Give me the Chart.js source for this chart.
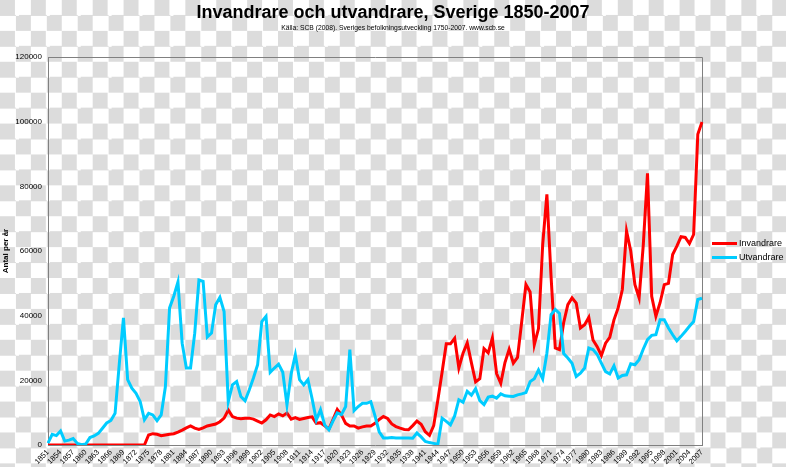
<!DOCTYPE html>
<html lang="sv">
<head>
<meta charset="UTF-8">
<title>Invandrare och utvandrare, Sverige 1850-2007</title>
<script src="https://cdn.jsdelivr.net/npm/chart.js"></script>
<style>
    html, body { margin: 0; padding: 0; }
    body {
        width: 786px; height: 467px; overflow: hidden; position: relative;
        /* transparent-look checkerboard, as in the source image */
        background: repeating-conic-gradient(#fff 0 25%, #dcdcdc 0 50%) 0 0 / 30.9px 30.9px;
        font-family: 'Liberation Sans', Arial, sans-serif;
        color: #000;
    }
    #chart { display: block; }
    #title { position: absolute; left: 0; top: 1px; width: 786px; text-align: center;
             font-size: 18px; font-weight: bold; line-height: 22px; }
    #subtitle { position: absolute; left: 0; top: 23.5px; width: 786px; text-align: center;
                font-size: 6.75px; line-height: 8px; }
    #legend { position: absolute; left: 712px; top: 236px; }
    #legend .item { display: flex; align-items: center; height: 14px; font-size: 9px; }
    #legend .swatch { display: inline-block; width: 25px; height: 3px; margin-right: 2px; }
</style>
</head>
<body>
<canvas id="chart" width="786" height="467"></canvas>
<div id="title">Invandrare och utvandrare, Sverige 1850-2007</div>
<div id="subtitle">Källa: SCB (2008). Sveriges befolkningsutveckling 1750-2007. www.scb.se</div>
<div id="legend"></div>

<script>
    // years on the x axis (every 3rd one gets a label)
    const years = [
        1851,1852,1853,1854,1855,1856,1857,1858,1859,1860,
        1861,1862,1863,1864,1865,1866,1867,1868,1869,1870,
        1871,1872,1873,1874,1875,1876,1877,1878,1879,1880,
        1881,1882,1883,1884,1885,1886,1887,1888,1889,1890,
        1891,1892,1893,1894,1895,1896,1897,1898,1899,1900,
        1901,1902,1903,1904,1905,1906,1907,1908,1909,1910,
        1911,1912,1913,1914,1915,1916,1917,1918,1919,1920,
        1921,1922,1923,1924,1925,1926,1927,1928,1929,1930,
        1931,1932,1933,1934,1935,1936,1937,1938,1939,1940,
        1941,1942,1943,1944,1945,1946,1947,1948,1949,1950,
        1951,1952,1953,1954,1955,1956,1957,1958,1959,1960,
        1961,1962,1963,1964,1965,1966,1967,1968,1969,1970,
        1971,1972,1973,1974,1975,1976,1977,1978,1979,1980,
        1981,1982,1983,1984,1985,1986,1987,1988,1989,1990,
        1991,1992,1993,1994,1995,1996,1997,1998,1999,2000,
        2001,2002,2003,2004,2005,2006,2007
    ];
    const labelStep = 3;

    // Invandrare (immigrants) per year
    const invandrare = [
        0,0,0,0,0,0,0,0,0,0,
        0,0,0,0,0,0,0,0,0,0,
        0,0,0,0,3100,3500,3300,2900,3100,3300,
        3500,4000,4600,5300,5900,5200,4800,5300,5900,6200,
        6500,7200,8300,10800,8800,8300,8100,8300,8300,8000,
        7400,6800,7800,9300,8800,9600,9000,9900,8000,8500,
        7900,8200,8500,8700,6700,6900,5900,4900,7900,11000,
        9300,6700,5900,5900,5200,5600,5900,5900,6700,7900,
        8800,8200,6500,5700,5200,4800,4700,6000,7400,6400,
        4100,3000,6000,14000,22500,31300,31300,33000,23800,28400,
        31600,25400,19500,20500,29800,28500,33100,22100,19100,25500,
        29600,25300,27100,38200,49600,47300,31000,36000,62000,77500,
        52000,30000,29500,37800,43400,45500,43900,36200,37200,39500,
        32500,30400,27700,31500,33300,38700,42400,48100,66200,60000,
        49600,45500,62000,84000,46000,39800,44000,49600,50000,58900,
        61500,64400,64200,62300,65100,96100,99900
    ];

    // Utvandrare (emigrants) per year
    const utvandrare = [
        600,3300,2900,4300,1200,1500,2000,500,100,300,
        2300,2800,3600,5200,6800,7600,9800,25000,39300,20200,
        17600,16000,13400,7800,9800,9300,7500,9300,18000,42400,
        46000,50400,31500,23800,23800,34600,51000,50600,33400,34600,
        43400,45700,41300,13400,18600,19600,15000,13700,17000,20700,
        24800,38200,39800,22500,23800,25000,22500,12400,22000,27900,
        20200,18600,20200,14300,7700,10900,6200,4700,7500,9900,
        9400,11900,29500,10600,11900,12900,12900,13400,9000,4100,
        2200,2200,2300,2200,2200,2200,2200,2100,3700,2500,
        1100,750,500,250,8300,7300,6200,9000,14000,13200,
        16600,15400,17400,13700,12500,14800,15100,14500,15800,15200,
        15100,15000,15500,15800,16200,19600,20500,23200,20500,28400,
        40300,41900,40700,28300,26900,25300,21200,22200,23800,30000,
        29500,28000,25300,22700,22000,24500,20700,21500,21700,25100,
        24800,26400,29700,32600,33900,34100,38700,38700,36200,34100,
        32200,33600,35100,36700,38200,45000,45400
    ];

    const FONT = 'Liberation Sans, Arial, sans-serif';

    // top and right edge of the plot frame
    const frame = {
        id: 'frame',
        beforeDatasetsDraw(chart) {
            const {ctx, chartArea: a} = chart;
            ctx.save();
            ctx.strokeStyle = '#808080';
            ctx.lineWidth = 1;
            ctx.beginPath();
            ctx.moveTo(Math.round(a.left) + 0.5, Math.round(a.top) + 0.5);
            ctx.lineTo(Math.round(a.right) + 0.5, Math.round(a.top) + 0.5);
            ctx.lineTo(Math.round(a.right) + 0.5, Math.round(a.bottom) + 0.5);
            ctx.stroke();
            ctx.restore();
        }
    };

    const chart = new Chart(document.getElementById('chart'), {
        type: 'line',
        data: {
            labels: years,
            datasets: [
                {
                    label: 'Invandrare',
                    data: invandrare,
                    borderColor: '#ff0000',
                    borderWidth: 3,
                    pointRadius: 0,
                    tension: 0,
                    order: 1
                },
                {
                    label: 'Utvandrare',
                    data: utvandrare,
                    borderColor: '#00ccff',
                    borderWidth: 3,
                    pointRadius: 0,
                    tension: 0,
                    order: 0
                }
            ]
        },
        options: {
            responsive: false,
            animation: false,
            layout: { padding: { top: 57, right: 84, bottom: 0, left: 0 } },
            plugins: {
                legend: { display: false },
                tooltip: { enabled: false }
            },
            scales: {
                x: {
                    offset: false,
                    grid: { display: false, drawTicks: false },
                    border: { display: true, color: '#808080', width: 1 },
                    ticks: {
                        autoSkip: false,
                        minRotation: 45,
                        maxRotation: 45,
                        padding: 3,
                        color: '#000',
                        font: { family: FONT, size: 7.5 },
                        callback: (v, i) => (i % labelStep === 0 ? years[i] : '')
                    },
                    afterFit: (s) => { s.height = 22; }
                },
                y: {
                    min: 0,
                    max: 120000,
                    grid: { display: false, drawTicks: false },
                    border: { display: true, color: '#808080', width: 1 },
                    ticks: {
                        stepSize: 20000,
                        padding: 6,
                        color: '#000',
                        font: { family: FONT, size: 8 },
                        callback: (v) => String(v)
                    },
                    title: {
                        display: true,
                        text: 'Antal per år',
                        color: '#000',
                        font: { family: FONT, size: 8, weight: 'bold' },
                        padding: { top: 1, bottom: 0 }
                    },
                    afterFit: (s) => { s.width = 48; }
                }
            }
        },
        plugins: [frame]
    });

    // legend built from the datasets, placed to the right of the plot
    const legend = document.getElementById('legend');
    chart.data.datasets.forEach(ds => {
        const item = document.createElement('div');
        item.className = 'item';
        const sw = document.createElement('span');
        sw.className = 'swatch';
        sw.style.background = ds.borderColor;
        item.appendChild(sw);
        item.appendChild(document.createTextNode(ds.label));
        legend.appendChild(item);
    });
</script>
</body>
</html>
